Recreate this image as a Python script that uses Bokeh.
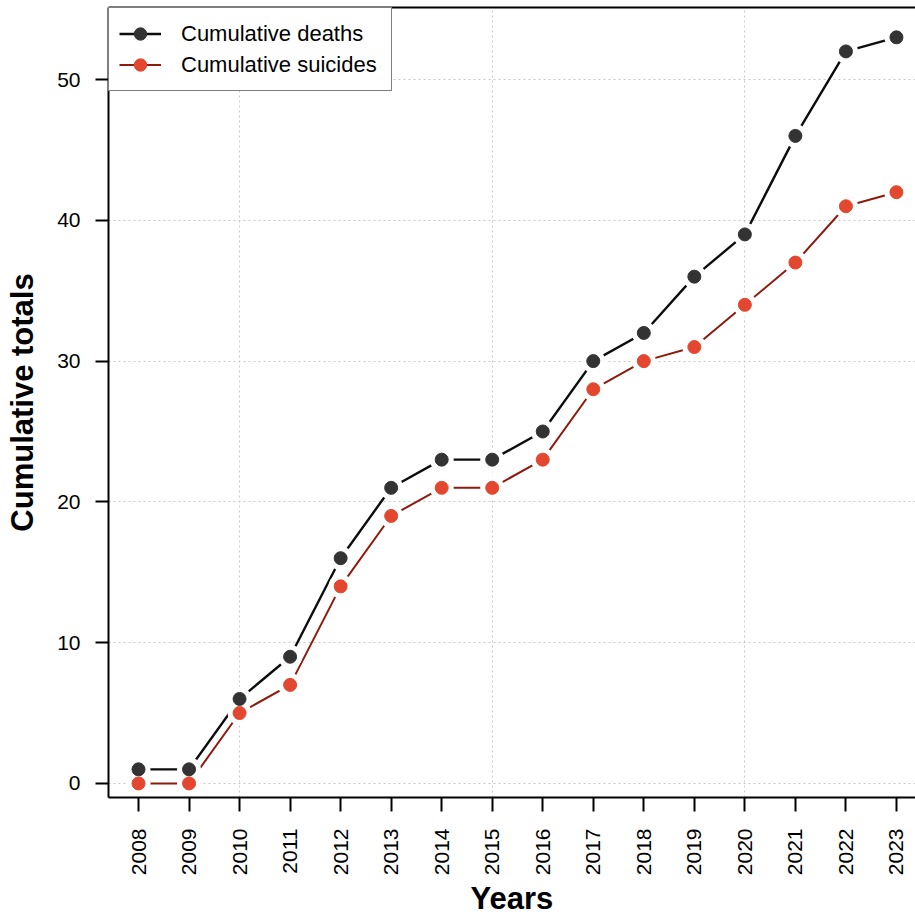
import math
from bokeh.plotting import figure
from bokeh.models import FixedTicker, LinearAxis, Range1d, Legend, LegendItem, ColumnDataSource
from bokeh.embed import file_html
from bokeh.resources import INLINE

years = [2008, 2009, 2010, 2011, 2012, 2013, 2014, 2015, 2016, 2017, 2018, 2019, 2020, 2021, 2022, 2023]
year_labels = [str(y) for y in years]
cum_deaths = [1, 1, 6, 9, 16, 21, 23, 23, 25, 30, 32, 36, 39, 46, 52, 53]
cum_suicides = [0, 0, 5, 7, 14, 19, 21, 21, 23, 28, 30, 31, 34, 37, 41, 42]
y_ticks = [0, 10, 20, 30, 40, 50]
grid_years = [2010, 2015, 2020]

FONT = "Liberation Sans"

src = ColumnDataSource(dict(year=years, deaths=cum_deaths, suicides=cum_suicides))

p = figure(width=915, height=919, output_backend="svg", toolbar_location=None,
           x_range=Range1d(2007.406, 2023.377), y_range=Range1d(-1.0, 55.12),
           min_border_left=108, min_border_right=0, min_border_top=7, min_border_bottom=122)
p.outline_line_color = None
p.background_fill_color = "white"
p.border_fill_color = "white"

# axes
for ax in (p.xaxis, p.yaxis):
    ax.axis_line_width = 2
    ax.axis_line_color = "black"
    ax.major_tick_line_width = 2
    ax.major_tick_line_color = "black"
    ax.major_tick_in = 0
    ax.minor_tick_in = 0
    ax.minor_tick_out = 0
    ax.major_label_text_font = FONT
    ax.major_label_text_color = "black"
    ax.axis_label_text_font = FONT
    ax.axis_label_text_font_style = "bold"
    ax.axis_label_text_color = "black"

p.xaxis.ticker = FixedTicker(ticks=years)
p.xaxis.major_label_overrides = {y: s for y, s in zip(years, year_labels)}
p.xaxis.major_label_orientation = math.pi / 2
p.xaxis.major_tick_out = 14
p.xaxis.major_label_standoff = 17
p.xaxis.major_label_text_font_size = "21px"
p.xaxis.axis_label = "Years"
p.xaxis.axis_label_text_font_size = "31px"
p.xaxis.axis_label_standoff = 3

p.yaxis.ticker = FixedTicker(ticks=y_ticks)
p.yaxis.major_tick_out = 13
p.yaxis.major_label_standoff = 15
p.yaxis.major_label_text_font_size = "21px"
p.yaxis.axis_label = "Cumulative totals"
p.yaxis.axis_label_text_font_size = "31px"
p.yaxis.axis_label_standoff = 14

top_axis = LinearAxis(ticker=FixedTicker(ticks=[]), major_tick_out=0, major_tick_in=0,
                      minor_tick_out=0, minor_tick_in=0, major_label_text_font_size="0px",
                      axis_line_width=2, axis_line_color="black")
p.add_layout(top_axis, "above")

# grid
p.xgrid.ticker = FixedTicker(ticks=grid_years)
p.ygrid.ticker = FixedTicker(ticks=y_ticks)
for g in (p.xgrid, p.ygrid):
    g.grid_line_color = "#c8c8c8"
    g.grid_line_dash = "2 3"
    g.grid_line_width = 1

# lines
ld = p.line("year", "deaths", source=src, line_color="#0d0d0d", line_width=2.4)
ls = p.line("year", "suicides", source=src, line_color="#8e1a0e", line_width=2)

# white gaps around points (type="b" style)
p.scatter("year", "deaths", source=src, size=24, fill_color="white", line_color=None)
p.scatter("year", "suicides", source=src, size=24, fill_color="white", line_color=None)

# points
pd_ = p.scatter("year", "deaths", source=src, size=13, fill_color="#333333", line_color="#333333")
ps_ = p.scatter("year", "suicides", source=src, size=13, fill_color="#e4472f", line_color="#e4472f")

legend = Legend(items=[
    LegendItem(label="Cumulative deaths", renderers=[ld, pd_]),
    LegendItem(label="Cumulative suicides", renderers=[ls, ps_]),
], location="top_left")
legend.margin = 0
legend.padding = 10
legend.spacing = 0
legend.label_height = 31
legend.glyph_height = 31
legend.glyph_width = 42
legend.label_width = 200
legend.label_standoff = 20
legend.border_line_color = "black"
legend.border_line_width = 1.5
legend.background_fill_color = "white"
legend.background_fill_alpha = 1
legend.label_text_font = FONT
legend.label_text_font_size = "22px"
legend.label_text_color = "black"
p.add_layout(legend)

open("out.html", "w").write(file_html(p, INLINE))
